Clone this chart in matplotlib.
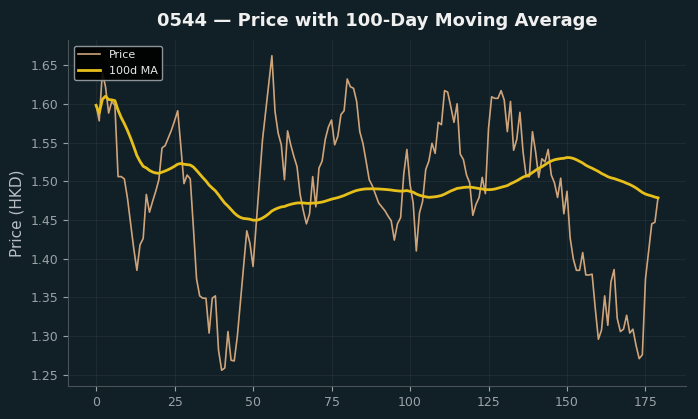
import matplotlib
matplotlib.use("Agg")
import matplotlib.pyplot as plt
import numpy as np
import pandas as pd

title = "0544 — Price with 100-Day Moving Average"
ylabel = "Price (HKD)"
ma_window = 100

price = [
    1.598, 1.578, 1.641, 1.622, 1.588, 1.603, 1.598, 1.506, 1.506, 1.503,
    1.478, 1.446, 1.413, 1.385, 1.418, 1.426, 1.483, 1.460, 1.474, 1.487,
    1.502, 1.543, 1.546, 1.556, 1.566, 1.578, 1.591, 1.545, 1.497, 1.508,
    1.503, 1.440, 1.374, 1.352, 1.349, 1.349, 1.304, 1.349, 1.352, 1.282,
    1.256, 1.259, 1.306, 1.269, 1.268, 1.300, 1.345, 1.390, 1.436, 1.420,
    1.390, 1.444, 1.499, 1.553, 1.589, 1.626, 1.662, 1.590, 1.562, 1.547,
    1.502, 1.565, 1.547, 1.532, 1.519, 1.483, 1.462, 1.445, 1.458, 1.506,
    1.467, 1.517, 1.526, 1.554, 1.570, 1.579, 1.547, 1.558, 1.586, 1.591,
    1.632, 1.622, 1.620, 1.603, 1.564, 1.549, 1.526, 1.502, 1.494, 1.483,
    1.472, 1.467, 1.462, 1.455, 1.449, 1.424, 1.445, 1.453, 1.509, 1.541,
    1.496, 1.472, 1.410, 1.459, 1.474, 1.515, 1.526, 1.549, 1.536, 1.576,
    1.573, 1.617, 1.615, 1.596, 1.576, 1.600, 1.535, 1.528, 1.508, 1.498,
    1.456, 1.470, 1.479, 1.505, 1.484, 1.568, 1.609, 1.607, 1.607, 1.617,
    1.605, 1.564, 1.603, 1.540, 1.554, 1.589, 1.538, 1.506, 1.506, 1.564,
    1.538, 1.505, 1.529, 1.525, 1.541, 1.508, 1.498, 1.479, 1.504, 1.458,
    1.487, 1.427, 1.400, 1.385, 1.385, 1.408, 1.379, 1.379, 1.380, 1.336,
    1.296, 1.308, 1.352, 1.314, 1.370, 1.386, 1.323, 1.306, 1.309, 1.327,
    1.304, 1.309, 1.288, 1.271, 1.276, 1.374, 1.410, 1.445, 1.447, 1.479,
]

days = np.arange(len(price))
ma = pd.Series(price).rolling(ma_window, min_periods=1).mean()

bg = "#111f26"
fig = plt.figure(figsize=(6.98, 4.19), dpi=100, facecolor=bg)
ax = fig.add_axes([0.0974, 0.0788, 0.8856, 0.8257])
ax.set_facecolor(bg)

ax.plot(days, price, color="#cfa47a", lw=1.2, label="Price")
ax.plot(days, ma, color="#e6bf1a", lw=2.0, label="100d MA")

ax.set_title(title, color="#f0f0f0", fontsize=13, fontweight="bold", pad=10)
ax.set_ylabel(ylabel, color="#b8bfc4", fontsize=11)
ax.tick_params(colors="#9aa3a8", labelsize=9)
ax.grid(True, color="#ffffff", alpha=0.05, lw=0.8)
for s in ax.spines.values():
    s.set_color("#4a5358")
ax.spines["top"].set_visible(False)
ax.spines["right"].set_visible(False)

leg = ax.legend(loc="upper left", fontsize=8, facecolor="#000000",
                edgecolor="#9aa3a8", framealpha=0.9)
for t in leg.get_texts():
    t.set_color("#e8e8e8")

fig.savefig("out.png", dpi=100, facecolor=bg)
